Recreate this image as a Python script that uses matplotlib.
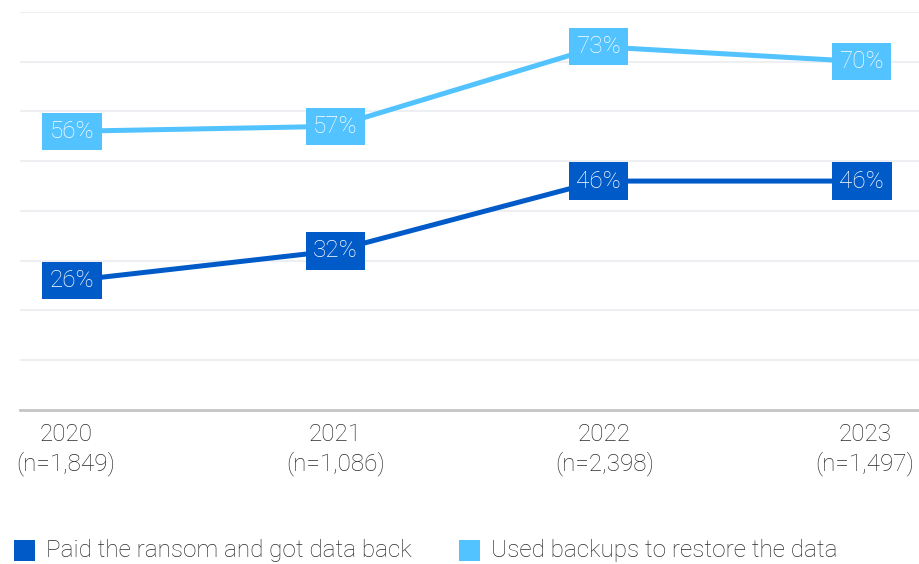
import matplotlib
matplotlib.use('Agg')
import matplotlib.pyplot as plt
from matplotlib.patches import Rectangle
from matplotlib.transforms import ScaledTranslation

years = ["2020", "2021", "2022", "2023"]
sample_sizes = ["(n=1,849)", "(n=1,086)", "(n=2,398)", "(n=1,497)"]
paid_ransom = [26, 32, 46, 46]
used_backups = [56, 57, 73, 70]

dark_blue = "#005BC8"
light_blue = "#52C3FF"
text_col = "#2b2b2b"

plt.rcParams['font.family'] = ['Roboto', 'DejaVu Sans']

fig = plt.figure(figsize=(9.19, 5.64), dpi=100)
ax = fig.add_axes([0.0218, 0.273, 0.9782, 0.706])

x = list(range(len(years)))

for vals, col in [(used_backups, light_blue), (paid_ransom, dark_blue)]:
    ax.plot(x, vals, color=col, lw=3.6, solid_capstyle='butt', zorder=3)
    for xi, v in zip(x, vals):
        ax.text(xi, v, f"{v}%", ha='center', va='center', fontsize=17.5,
                color='white', fontweight='light', zorder=4,
                bbox=dict(boxstyle='square,pad=0.3', fc=col, ec='none'))

ax.set_xlim(-0.197, 3.217)
ax.set_ylim(0, 80)
ax.set_yticks(range(10, 90, 10))
ax.yaxis.grid(True, color='#eeeff2', lw=1.5)
ax.set_axisbelow(True)
for s in ['top', 'right', 'left']:
    ax.spines[s].set_visible(False)
ax.spines['bottom'].set_color('#c4c4c4')
ax.spines['bottom'].set_linewidth(2)
ax.tick_params(axis='y', left=False, labelleft=False)
ax.tick_params(axis='x', bottom=False, pad=6)
ax.set_xticks(x)
ax.set_xticklabels([f"{y}\n{n}" for y, n in zip(years, sample_sizes)],
                   fontsize=17.5, color=text_col, linespacing=1.25, fontweight='light')
# end labels sit slightly off the points in the original
shifts = [-6, 0, 6, 3]
for lab, dx in zip(ax.get_xticklabels(), shifts):
    lab.set_transform(lab.get_transform() + ScaledTranslation(dx / 100, 0, fig.dpi_scale_trans))

# legend along the bottom edge
items = [("Paid the ransom and got data back", dark_blue, 14),
         ("Used backups to restore the data", light_blue, 459)]
for label, col, px in items:
    fig.patches.append(Rectangle((px / 919, 3 / 564), 21 / 919, 21 / 564,
                                 transform=fig.transFigure, fc=col, ec='none'))
    fig.text((px + 32) / 919, 7 / 564, label, fontsize=17.5, color=text_col,
             va='baseline', ha='left', fontweight='light')

fig.savefig("out.png", dpi=100)
